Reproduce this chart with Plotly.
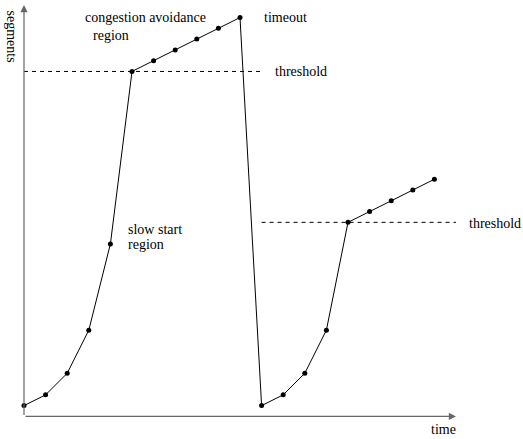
import plotly.graph_objects as go

# data: congestion window (segments) vs time
time_1 = [0, 1, 2, 3, 4, 5, 6, 7, 8, 9, 10]
seg_1 = [1, 2, 4, 8, 16, 32, 33, 34, 35, 36, 37]
time_2 = [11, 12, 13, 14, 15, 16, 17, 18, 19]
seg_2 = [1, 2, 4, 8, 18, 19, 20, 21, 22]
threshold_1 = 32
threshold_2 = 18

X_AXIS_END = 20
Y_AXIS_END = 38.16
FONT = "Liberation Serif, Times New Roman, serif"

times = time_1 + time_2
segs = seg_1 + seg_2

fig = go.Figure()
fig.add_trace(go.Scatter(
    x=times, y=segs, mode="lines+markers",
    line=dict(color="black", width=1),
    marker=dict(color="black", size=5),
    cliponaxis=False, hoverinfo="skip",
))

# threshold lines
fig.add_shape(type="line", x0=0, x1=time_2[0], y0=threshold_1, y1=threshold_1,
              line=dict(color="black", width=1, dash="4px,4px"))
fig.add_shape(type="line", x0=time_2[0], x1=X_AXIS_END, y0=threshold_2, y1=threshold_2,
              line=dict(color="black", width=1, dash="4px,4px"))

ann = []
# axes arrows
ann.append(dict(x=X_AXIS_END, y=0, ax=0, ay=0, axref="x", ayref="y", xref="x", yref="y",
                text="", showarrow=True, arrowhead=2, arrowsize=1.2, arrowwidth=1.2,
                arrowcolor="#666666", standoff=0, startstandoff=0))
ann.append(dict(x=0, y=Y_AXIS_END, ax=0, ay=0, axref="x", ayref="y", xref="x", yref="y",
                text="", showarrow=True, arrowhead=2, arrowsize=1.2, arrowwidth=1.2,
                arrowcolor="#666666", standoff=0, startstandoff=0))

def label(text, x, y, xanchor="left", yanchor="middle", angle=0):
    ann.append(dict(x=x, y=y, xref="x", yref="y", text=text, showarrow=False,
                    xanchor=xanchor, yanchor=yanchor, textangle=angle,
                    font=dict(family=FONT, size=14, color="black")))

label("congestion avoidance", 2.73, 36.96)
label("region", 3.10, 35.38)
label("timeout", 11.02, 36.96)
label("threshold", 11.53, 31.95)
label("threshold", 20.51, 17.94)
label("slow start", 4.72, 17.38)
label("region", 4.72, 15.99)
label("time", 19.4, -2.09, xanchor="center", yanchor="bottom")
label("segments", -0.58, 35.2, xanchor="center", angle=90)

fig.update_layout(
    width=523, height=439,
    margin=dict(l=0, r=0, t=0, b=0, pad=0),
    paper_bgcolor="white", plot_bgcolor="white",
    showlegend=False,
    xaxis=dict(range=[-1.111, 23.102], visible=False),
    yaxis=dict(range=[-2.096, 38.627], visible=False),
    annotations=ann,
)

fig.write_html("out.html", config={"displayModeBar": False},
               post_script="document.body.style.margin='0';")
